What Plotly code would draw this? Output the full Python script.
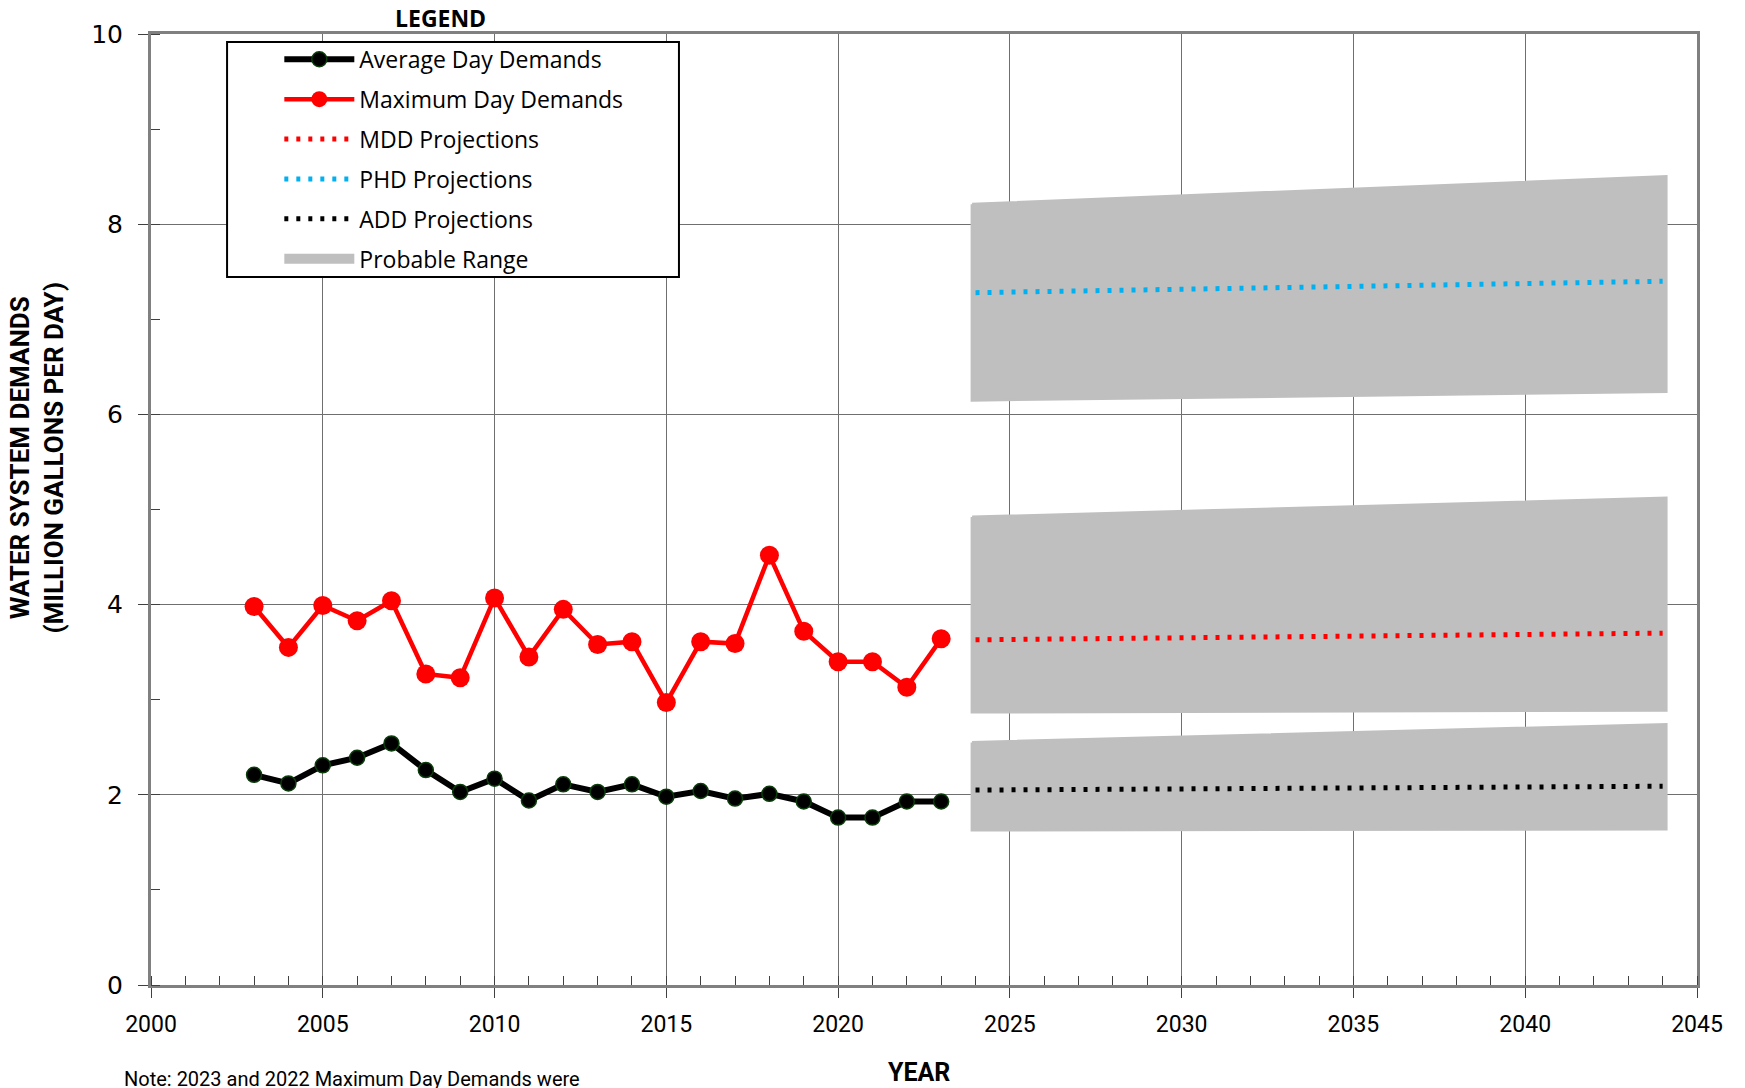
import plotly.graph_objects as go

# Historic demands (MGD)
years = list(range(2003, 2024))
add_hist = [2.21, 2.12, 2.31, 2.39, 2.54, 2.26, 2.03, 2.17, 1.94, 2.11, 2.03,
            2.11, 1.98, 2.04, 1.96, 2.01, 1.93, 1.76, 1.76, 1.93, 1.93]
mdd_hist = [3.98, 3.55, 3.99, 3.83, 4.04, 3.27, 3.23, 4.07, 3.45, 3.95, 3.58,
            3.61, 2.97, 3.61, 3.59, 4.52, 3.72, 3.40, 3.40, 3.13, 3.64]

# Projections (start / end of planning period)
proj_years = [2024, 2044]
phd_proj = [7.28, 7.40]
mdd_proj = [3.63, 3.70]
add_proj = [2.05, 2.09]

# Probable ranges
band_years = [2023.9, 2044.1]
phd_top = [8.21, 8.50]
phd_bot = [6.15, 6.24]
mdd_top = [4.92, 5.12]
mdd_bot = [2.87, 2.89]
add_top = [2.55, 2.74]
add_bot = [1.63, 1.64]

GRAY = "#BFBFBF"
FONT = "Open Sans"
NARROW = "Liberation Sans Narrow, Roboto, Arial"

fig = go.Figure()

# Probable range bands
bands = [(phd_top, phd_bot), (mdd_top, mdd_bot), (add_top, add_bot)]
for top, bot in bands:
    fig.add_trace(go.Scatter(
        x=[band_years[0], band_years[1], band_years[1], band_years[0], band_years[0]],
        y=[top[0], top[1], bot[1], bot[0], top[0]],
        fill="toself", fillcolor=GRAY, mode="lines",
        line=dict(color=GRAY, width=3),
        showlegend=False, hoverinfo="skip"
    ))
# legend entry for the bands (thick swatch)
fig.add_trace(go.Scatter(
    x=[None], y=[None], mode="lines", name="Probable Range",
    line=dict(color=GRAY, width=12),
    legendgroup="range", legendrank=6
))

fig.add_trace(go.Scatter(
    x=years, y=add_hist, mode="lines+markers", name="Average Day Demands",
    line=dict(color="black", width=6),
    marker=dict(color="black", size=15, line=dict(color="#0B3D0B", width=1.5)),
    legendgroup="add", legendrank=1
))
fig.add_trace(go.Scatter(
    x=years, y=mdd_hist, mode="lines+markers", name="Maximum Day Demands",
    line=dict(color="#FF0000", width=4.5),
    marker=dict(color="#FF0000", size=19),
    legendgroup="mdd", legendrank=2
))

dots = "4px,8px"
fig.add_trace(go.Scatter(
    x=proj_years, y=mdd_proj, mode="lines", name="MDD Projections",
    line=dict(color="#FF0000", width=5, dash=dots),
    legendgroup="mddp", legendrank=3
))
fig.add_trace(go.Scatter(
    x=proj_years, y=phd_proj, mode="lines", name="PHD Projections",
    line=dict(color="#00B0F0", width=5, dash=dots),
    legendgroup="phdp", legendrank=4
))
fig.add_trace(go.Scatter(
    x=proj_years, y=add_proj, mode="lines", name="ADD Projections",
    line=dict(color="black", width=5, dash=dots),
    legendgroup="addp", legendrank=5
))

# legend box
fig.add_shape(type="rect", xref="paper", yref="paper",
              x0=0.0492, x1=0.3415, y0=0.7445, y1=0.9916,
              line=dict(color="black", width=2), fillcolor="white", layer="above")

fig.add_annotation(text="<b>LEGEND</b>", xref="paper", yref="paper",
                   x=0.187, y=1.0165, xanchor="center", yanchor="middle", showarrow=False,
                   font=dict(family=FONT, size=23, color="black"))
fig.add_annotation(text="<b>WATER SYSTEM DEMANDS<br>(MILLION GALLONS PER DAY)</b>",
                   xref="paper", yref="paper", x=-0.0735, y=0.555,
                   xanchor="center", yanchor="middle", textangle=-90, showarrow=False,
                   font=dict(family=NARROW, size=26, color="black"))
fig.add_annotation(text="<b>YEAR</b>", xref="paper", yref="paper",
                   x=0.497, y=-0.075, xanchor="center", yanchor="top", showarrow=False,
                   font=dict(family=NARROW, size=25, color="black"))
fig.add_annotation(text="Note: 2023 and 2022 Maximum Day Demands were",
                   xref="paper", yref="paper", x=-0.0185, y=-0.0845,
                   xanchor="left", yanchor="top", showarrow=False,
                   font=dict(family=NARROW, size=20, color="black"))

fig.update_layout(
    width=1745, height=1088,
    margin=dict(l=151, r=48, t=34, b=103, autoexpand=False),
    plot_bgcolor="white", paper_bgcolor="white",
    showlegend=True,
    legend=dict(x=0.083, y=0.996, xanchor="left", yanchor="top",
                bgcolor="rgba(0,0,0,0)", borderwidth=0,
                font=dict(family=FONT, size=23, color="black"),
                itemwidth=70, traceorder="grouped", tracegroupgap=7),
    xaxis=dict(
        range=[2000, 2045], dtick=5, tick0=2000,
        showgrid=True, gridcolor="#6F6F6F", gridwidth=1,
        ticks="outside", ticklen=10, tickcolor="#404040",
        showline=True, linecolor="#808080", linewidth=3, mirror=True,
        tickfont=dict(family=NARROW, size=23, color="black"),
        ticklabelstandoff=6, automargin=False,
        minor=dict(dtick=1, ticks="inside", ticklen=9, tickcolor="#404040", showgrid=False),
        zeroline=False
    ),
    yaxis=dict(
        range=[0, 10], dtick=2,
        showgrid=True, gridcolor="#6F6F6F", gridwidth=1,
        ticks="outside", ticklen=10, tickcolor="#404040",
        showline=True, linecolor="#808080", linewidth=3, mirror=True,
        tickfont=dict(family="DejaVu Sans", size=25, color="black"),
        ticklabelstandoff=10, automargin=False,
        minor=dict(dtick=1, ticks="inside", ticklen=9, tickcolor="#404040", showgrid=False),
        zeroline=False
    ),
)

# drop the browser's default body margin so the figure fills the window
fig.write_html("out.html", config=dict(displayModeBar=False),
               post_script="document.body.style.margin='0';")
